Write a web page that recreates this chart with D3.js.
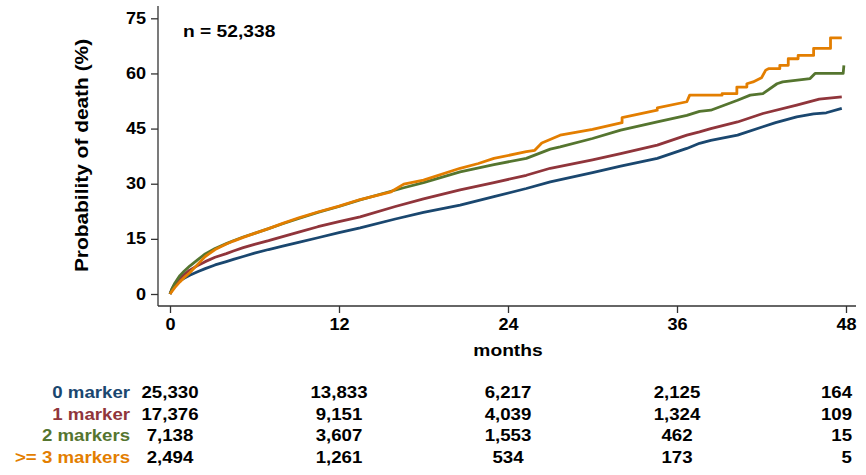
<!DOCTYPE html>
<html>
<head>
<meta charset="utf-8">
<script src="https://cdn.jsdelivr.net/npm/d3@7"></script>
<style>
  html, body { margin: 0; padding: 0; background: #fff; }
  svg { display: block; }
  text { font-family: "Liberation Sans", Arial, Helvetica, sans-serif; font-weight: bold; fill: #000; }
</style>
</head>
<body>
<svg id="chart" width="866" height="475"></svg>
<script>
// Cumulative probability of death (%) by number of markers, months 0-48
const seriesNames = ["0 marker", "1 marker", "2 markers", ">= 3 markers"];
const seriesColors = ["#1a476f", "#90353b", "#55752f", "#e37e00"];

const curve0 = [[0,0],[0.15,1.3],[0.35,2.5],[0.7,3.6],[1.0,4.3],[1.4,5.1],[2,6.1],[2.5,6.9],[3.2,7.9],[4,8.8],[4.5,9.4],[5.2,10.2],[6,11.1],[7,12.1],[8,13.0],[9.2,14.1],[10.5,15.3],[12,16.7],[13.5,18.0],[16,20.4],[18,22.2],[20.6,24.2],[23,26.5],[25.3,28.7],[27,30.5],[30,33.0],[32,34.8],[34.6,36.9],[36.7,39.6],[37.6,41.0],[38.4,41.8],[40.3,43.2],[42.1,45.5],[43,46.6],[44.5,48.2],[45.7,49.0],[46.6,49.3],[47.7,50.5]];
const curve1 = [[0,0],[0.15,1.4],[0.35,2.7],[0.7,4.2],[1.0,5.3],[1.4,6.5],[2,7.8],[2.5,8.8],[3.2,10.0],[4,11.0],[4.5,11.7],[5.2,12.6],[6,13.5],[7,14.5],[8,15.6],[9.2,16.9],[10.5,18.3],[12,19.7],[13.5,21.0],[16,23.8],[18,25.9],[20.6,28.3],[23,30.3],[25.3,32.3],[27,34.2],[30,36.5],[32,38.2],[34.6,40.5],[36.7,43.2],[37.6,44.1],[38.4,45.0],[40.3,46.8],[42.1,49.1],[44.5,51.4],[46.1,53.0],[47.7,53.6]];
const curve2 = [[0,0],[0.15,1.5],[0.35,3.0],[0.7,5.0],[1.0,6.2],[1.4,7.6],[2,9.4],[2.5,10.9],[3.2,12.4],[4,13.7],[4.5,14.5],[5.2,15.5],[6,16.5],[7,17.8],[8,19.1],[9.2,20.6],[10.5,22.2],[12,23.8],[13.5,25.6],[16.6,28.9],[18,30.3],[20.6,33.2],[23,35.2],[25.3,36.9],[27,39.4],[27.7,40.0],[30,42.3],[32,44.6],[34.6,46.8],[36.7,48.6],[37.6,49.7],[38.4,50.0],[40.3,52.7],[41.2,54.1],[42.1,54.5],[43.1,57.2],[43.5,57.7],[45.45,58.6],[45.8,60.0],[47.8,60.0],[47.85,62.2]];
const curve3 = [[0,0],[0.15,0.8],[0.35,1.8],[0.7,3.3],[1.0,4.4],[1.4,5.8],[2,8.2],[2.5,10.2],[3.2,12.1],[4,13.6],[4.5,14.4],[5.2,15.4],[6,16.5],[7,17.8],[8,19.2],[9.2,20.8],[10.5,22.3],[12,23.9],[13.5,25.7],[15.7,27.8],[16.6,29.9],[18,31.0],[20.6,34.2],[21.9,35.5],[23,36.9],[25.3,38.7],[25.9,39.1],[26.4,41.1],[27.7,43.2],[30,44.8],[32.1,46.6],[32.1,48.0],[34.6,50.0],[34.6,50.6],[36.7,52.3],[36.9,54.1],[39.2,54.1],[39.2,54.5],[40.25,54.5],[40.25,56.3],[40.96,56.3],[40.96,57.2],[41.4,57.7],[42.0,58.8],[42.3,60.9],[42.5,61.3],[43.3,61.3],[43.3,62.2],[43.9,62.2],[43.9,64.0],[44.6,64.0],[44.6,64.9],[45.7,64.9],[45.7,66.8],[46.9,66.8],[46.9,69.7],[47.7,69.7]];

// Number at risk table
const tableMonths = [0, 12, 24, 36, 48];
const atRisk0 = [25330, 13833, 6217, 2125, 164];
const atRisk1 = [17376, 9151, 4039, 1324, 109];
const atRisk2 = [7138, 3607, 1553, 462, 15];
const atRisk3 = [2494, 1261, 534, 173, 5];

const xTicks = [0, 12, 24, 36, 48];
const yTicks = [0, 15, 30, 45, 60, 75];
const xTitle = "months";
const yTitle = "Probability of death (%)";
const sampleLabel = "n = 52,338";

const curves = [curve0, curve1, curve2, curve3];
const atRisk = [atRisk0, atRisk1, atRisk2, atRisk3];

// Layout
const SX = 1.13; // horizontal glyph stretch
const plot = { left: 158, right: 856, top: 6, bottom: 306 };

const svg = d3.select("#chart");
const x = d3.scaleLinear().domain([0, 48]).range([170, 846]);
const y = d3.scaleLinear().domain([0, 75]).range([294, 18.3]);

function label(g, px, py, s, size, anchor, color) {
  return g.append("text")
    .attr("transform", `translate(${px},${py}) scale(${SX},1)`)
    .attr("text-anchor", anchor || "start")
    .style("font-size", size + "px")
    .style("fill", color || "#000")
    .text(s);
}

function styleAxis(g) {
  g.selectAll("line").attr("stroke", "#333").attr("stroke-width", 1.3);
  g.select(".domain").attr("stroke", "#333").attr("stroke-width", 1.3);
  g.selectAll(".tick text")
    .attr("transform", `scale(${SX},1)`)
    .style("font-size", "16px")
    .style("font-family", '"Liberation Sans", Arial, sans-serif')
    .style("font-weight", "bold")
    .attr("fill", "#000");
}

// Y axis
const yAxis = svg.append("g")
  .attr("transform", `translate(${plot.left},0)`)
  .call(d3.axisLeft(y).tickValues(yTicks).tickSize(7).tickPadding(3.6));
yAxis.select(".domain").attr("d", `M0,${plot.top}V${plot.bottom}`);
styleAxis(yAxis);

// X axis
const xAxis = svg.append("g")
  .attr("transform", `translate(0,${plot.bottom})`)
  .call(d3.axisBottom(x).tickValues(xTicks).tickSize(7).tickPadding(6));
xAxis.select(".domain").attr("d", `M${plot.left},0H${plot.right}`);
styleAxis(xAxis);

// Axis titles
svg.append("text")
  .attr("transform", `translate(88,155.5) rotate(-90) scale(${SX},1)`)
  .attr("text-anchor", "middle")
  .style("font-size", "18.5px")
  .text(yTitle);
label(svg, x(24), 356, xTitle, 17, "middle");

// Sample size
label(svg, 183, 36.5, sampleLabel, 17, "start");

// Curves
const line = d3.line().x(d => x(d[0])).y(d => y(d[1]));
svg.append("g").selectAll("path")
  .data(curves)
  .join("path")
  .attr("d", line)
  .attr("fill", "none")
  .attr("stroke", (d, i) => seriesColors[i])
  .attr("stroke-width", 2.8)
  .attr("stroke-linejoin", "round")
  .attr("stroke-linecap", "butt");

// Number-at-risk table
const fmt = d3.format(",");
const rowBase = [398, 419.5, 441, 462.5];
const table = svg.append("g");
seriesNames.forEach((name, i) => {
  label(table, 130, rowBase[i], name, 16.5, "end", seriesColors[i]);
  tableMonths.forEach((m, j) => {
    const last = j === tableMonths.length - 1;
    label(table, last ? x(m) + 6 : x(m), rowBase[i], fmt(atRisk[i][j]), 16.5, last ? "end" : "middle");
  });
});
</script>
</body>
</html>
